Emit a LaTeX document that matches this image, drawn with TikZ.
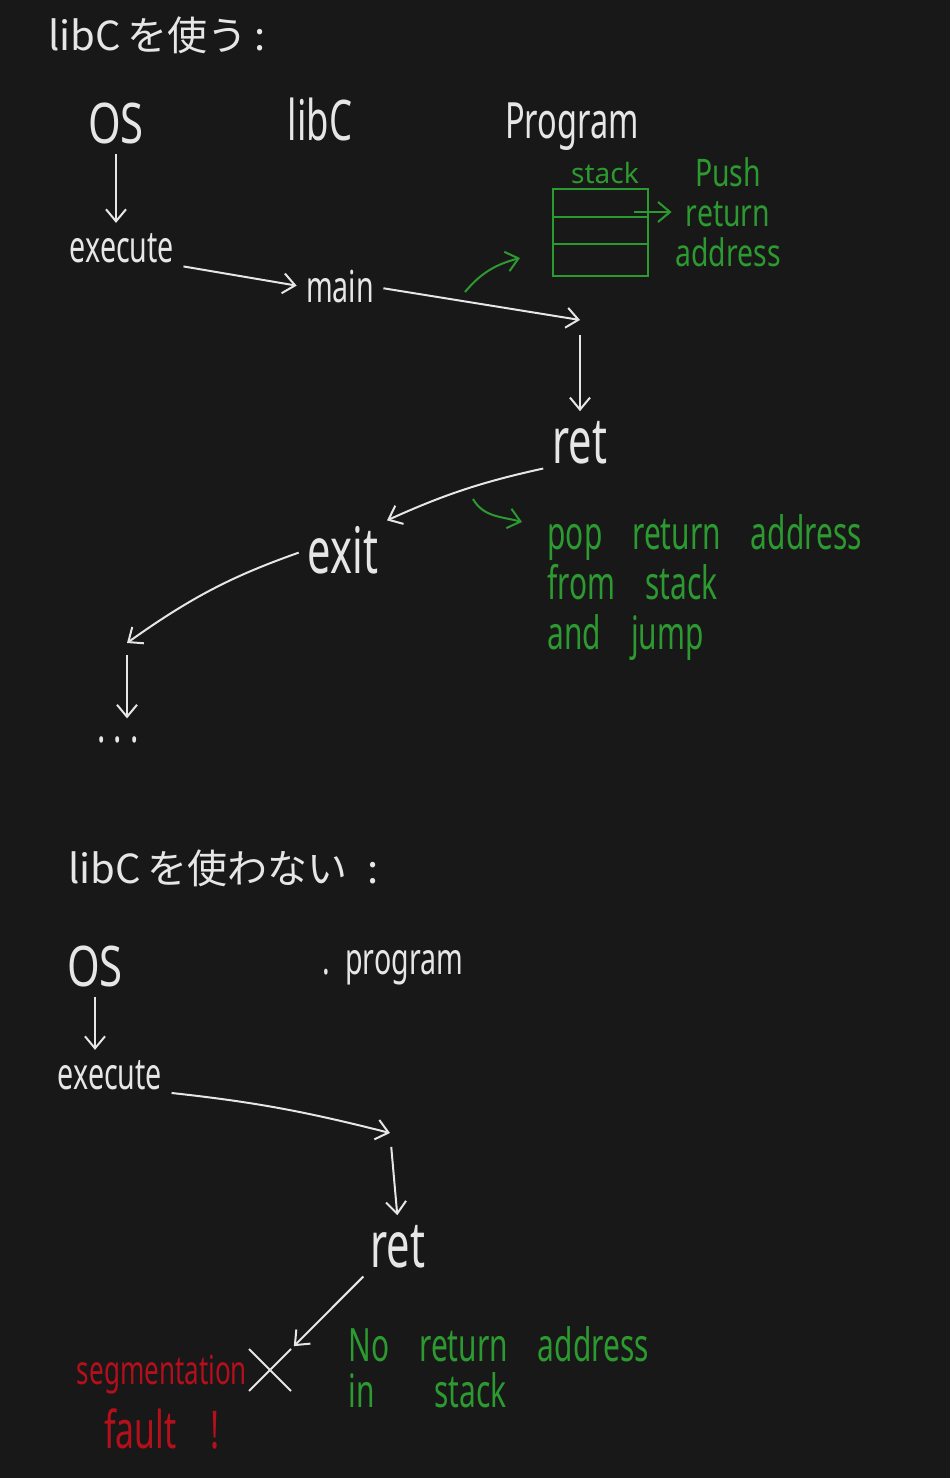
\documentclass[tikz,border=0pt]{standalone}
\usepackage{fontspec}
\setmainfont{Noto Sans}
\newfontfamily\jpfont{Noto Sans CJK JP}
\usetikzlibrary{arrows.meta,calc,positioning,shapes.misc}
\definecolor{bg}{HTML}{181818}
\definecolor{ink}{HTML}{E6E6E6}
\definecolor{grn}{HTML}{2C9A30}
\definecolor{errred}{HTML}{B50F1C}

\begin{document}
\begin{tikzpicture}[x=0.5pt,y=0.5pt,
	hand/.style={text=ink, inner sep=1pt, font=\fontsize{#1}{#1}\selectfont, xscale=0.65, transform shape},
	note/.style={hand=#1, text=grn, align=left},
	arr/.style={draw=ink, line width=1pt, -{Straight Barb[length=6pt,width=10pt]}, shorten <=4pt, shorten >=4pt},
	garr/.style={arr, draw=grn},
	title/.style={text=ink, inner sep=0pt, anchor=west, font=\jpfont\fontsize{20}{20}\selectfont}]

	\fill[bg] (0,0) rectangle (950,1478);

	% with libC
	\node[title] (t1) at (48,1443) {libC\,を使う\,:};
	\node[hand=28, xscale=1.15] (os1) at (116,1355) {OS};
	\node[hand=28] (libc) at (320,1358) {libC};
	\node[hand=25] (prg) at (572,1351) {Program};
	\node[hand=22] (exe1) at (122,1230) {execute};
	\node[hand=22] (main1) at (340,1191) {main};
	\coordinate (jmp1) at (580,1158);
	\node[hand=32] (ret1) at (580,1035) {ret};
	\node[hand=32] (exit1) at (343,928) {exit};
	\coordinate (jmp3) at (127,835);
	\node[hand=24] (dots) at (118,738) {.\ .\ .};

	% stack
	\node[draw=grn, line width=1pt, minimum width=47.5pt, minimum height=43.5pt] (stk) at (600,1245) {};
	\foreach \f in {0.32,0.62}
		\draw[grn, line width=1pt] ($(stk.north west)!\f!(stk.south west)$) -- ($(stk.north east)!\f!(stk.south east)$);
	\node[text=grn, inner sep=1pt, font=\fontsize{14}{14}\selectfont, above=1pt of stk, xshift=2.5pt] (stklbl) {stack};
	\node[note=19, xscale=1.15, align=center, font=\fontsize{19}{20}\selectfont] (push) at (728,1266) {Push\\return\\address};
	\node[note=23, anchor=west, font=\fontsize{23}{25}\selectfont] (pop) at (546,890) {pop\quad return\quad address\\from\quad stack\\and\quad jump};

	\draw[arr] (os1.south) -- (os1.south |- exe1.north);
	\draw[arr] (exe1.south east) -- (main1.west);
	\draw[arr, shorten >=0pt] (main1.east) -- (jmp1);
	\draw[arr, shorten <=7.5pt] (jmp1) -- (jmp1 |- ret1.north);
	\draw[arr] (ret1.south west) to[bend right=6] (exit1.north east);
	\draw[arr, shorten >=0pt] (exit1.west) to[bend right=8] (jmp3);
	\draw[arr, shorten <=6pt, shorten >=8pt] (jmp3) -- (jmp3 |- dots.north);

	\draw[garr, shorten <=0pt, shorten >=1pt] ($(stk.north east |- push.west)+(-7.5pt,0)$) -- (push.west);
	\coordinate (pfrom) at (465,1186);
	\coordinate (pto) at (520,1220);
	\draw[garr, shorten <=0pt, shorten >=0pt] (pfrom) to[out=50,in=195] (pto);
	\coordinate (popfrom) at (473,979);
	\coordinate (popto) at (522,956);
	\draw[garr, shorten <=0pt, shorten >=0pt] (popfrom) to[out=-60,in=165] (popto);

	% without libC
	\node[title] (t2) at (68,610) {libC\,を使わない\enspace:};
	\node[hand=28, xscale=1.15] (os2) at (95,512) {OS};
	\node[hand=22] (prog2) at (393,510) {.\ \ program};
	\node[hand=22] (exe2) at (110,403) {execute};
	\coordinate (jmp2) at (390,345);
	\node[hand=32] (ret2) at (398,231) {ret};
	\node[draw=ink, cross out, line width=1pt, minimum size=20pt, inner sep=0pt] (crash) at (270,108) {};
	\node[hand=20, text=errred, align=center, font=\fontsize{20}{32}\selectfont] (seg) at (162,76) {segmentation\\{\fontsize{26}{32}\selectfont fault\quad!}};
	\node[note=23, anchor=west, font=\fontsize{23}{23}\selectfont] (nostk) at (347,111) {No\quad return\quad address\\in\qquad stack};

	\draw[arr] (os2.south) -- (os2.south |- exe2.north);
	\draw[arr, shorten >=0pt] (exe2.south east) to[bend left=4] (jmp2);
	\draw[arr, shorten <=7pt] (jmp2) -- (ret2.north);
	\draw[arr, shorten >=2pt] (ret2.south west) -- (crash.north east);
\end{tikzpicture}
\end{document}
